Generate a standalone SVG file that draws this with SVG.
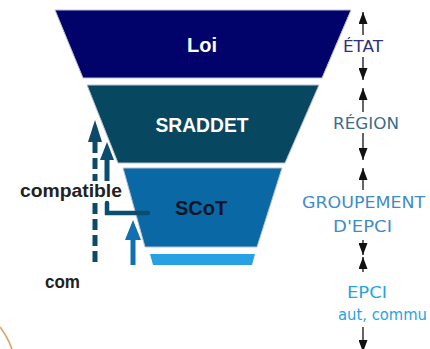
<svg xmlns="http://www.w3.org/2000/svg" width="430" height="349" viewBox="0 0 430 349">
  <style>
    .lvl { stroke: #b8c0d0; stroke-width: 1; }
    .lab { font-family: "Liberation Sans", Arial, sans-serif; font-weight: bold; text-anchor: middle; }
    .side { font-family: "DejaVu Sans", Verdana, sans-serif; text-anchor: middle; }
    .comp { font-family: "Liberation Sans", Arial, sans-serif; font-weight: bold; fill: #222222; }
    .rarrow { stroke: #111111; stroke-width: 1.3; fill: none; marker-end: url(#ah); }
  </style>
  <defs>
    <marker id="ah" markerUnits="userSpaceOnUse" markerWidth="12" markerHeight="9" refX="12" refY="4.5" orient="auto">
      <path d="M0,0 L12,4.5 L0,9 z" fill="#111111"/>
    </marker>
  </defs>
  <rect width="430" height="349" fill="#ffffff"/>

  <g id="node-loi">
    <polygon class="lvl" points="55,10 351,10 322,78 83,78" fill="#02026b"/>
    <text class="lab" x="202" y="52" font-size="20" fill="#ffffff">Loi</text>
  </g>
  <g id="node-sraddet">
    <polygon class="lvl" points="87,85 319,85 285,163 118,163" fill="#07475f"/>
    <text class="lab" x="202" y="132" font-size="19.5" fill="#ffffff" textLength="93" lengthAdjust="spacingAndGlyphs">SRADDET</text>
  </g>
  <g id="node-scot">
    <polygon class="lvl" points="123,168 282,168 257,247 145,247" fill="#0a69a4"/>
    <text class="lab" x="201" y="215" font-size="20" fill="#0a1628">SCoT</text>
  </g>
  <g id="node-epci-level">
    <polygon points="150,254 255,254 252,265 153,265" fill="#27a1e1"/>
  </g>

  <g id="connectors">
    <polygon points="95,120 102,142 88,142" fill="#0d4a6a"/>
    <line x1="95" y1="142" x2="95" y2="181" stroke="#0d4a6a" stroke-width="5" stroke-dasharray="11 5"/>
    <line x1="95" y1="203" x2="95" y2="266" stroke="#0d4a6a" stroke-width="5" stroke-dasharray="11 5"/>
    <polygon points="107,142 114,160 100,160" fill="#0b4d6e"/>
    <line x1="107" y1="158" x2="107" y2="181" stroke="#0b4d6e" stroke-width="5"/>
    <path d="M107,203 L107,213 L148,213" stroke="#0b4d6e" stroke-width="4.5" fill="none" stroke-linecap="round"/>
    <polygon points="133,220 141,240 125,240" fill="#1170b0"/>
    <line x1="133" y1="238" x2="133" y2="265" stroke="#1170b0" stroke-width="5"/>
    <line class="rarrow" x1="363" y1="35" x2="363" y2="12"/>
    <line class="rarrow" x1="363" y1="57" x2="363" y2="80"/>
    <line class="rarrow" x1="363" y1="112" x2="363" y2="88"/>
    <line class="rarrow" x1="363" y1="133" x2="363" y2="160"/>
    <line class="rarrow" x1="363" y1="190" x2="363" y2="168"/>
    <line class="rarrow" x1="363" y1="240" x2="363" y2="255"/>
    <line class="rarrow" x1="363" y1="272" x2="363" y2="257"/>
    <line class="rarrow" x1="363" y1="327" x2="363" y2="352"/>
  </g>

  <text class="comp" x="20" y="197" font-size="19" textLength="102" lengthAdjust="spacingAndGlyphs">compatible</text>
  <text class="comp" x="45" y="288" font-size="19" textLength="35" lengthAdjust="spacingAndGlyphs">com</text>

  <text class="side" x="363" y="52" font-size="16" fill="#30307e" textLength="40" lengthAdjust="spacingAndGlyphs">ÉTAT</text>
  <text class="side" x="366" y="129" font-size="16" fill="#3d6b8c" textLength="66" lengthAdjust="spacingAndGlyphs">RÉGION</text>
  <text class="side" x="363.5" y="208" font-size="16" fill="#3f8cc6" textLength="123" lengthAdjust="spacingAndGlyphs">GROUPEMENT</text>
  <text class="side" x="362.5" y="232" font-size="16" fill="#3f8cc6" textLength="59" lengthAdjust="spacingAndGlyphs">D'EPCI</text>
  <text class="side" x="367" y="298" font-size="16" fill="#2aa2e2" textLength="40" lengthAdjust="spacingAndGlyphs">EPCI</text>
  <text x="338" y="320" font-family="DejaVu Sans, Verdana, sans-serif" font-size="15" fill="#2aa2e2" textLength="89" lengthAdjust="spacingAndGlyphs">aut, commu</text>

  <path d="M0,327 Q7,336 12,349" stroke="#dca060" stroke-width="1.6" fill="none"/>
</svg>
